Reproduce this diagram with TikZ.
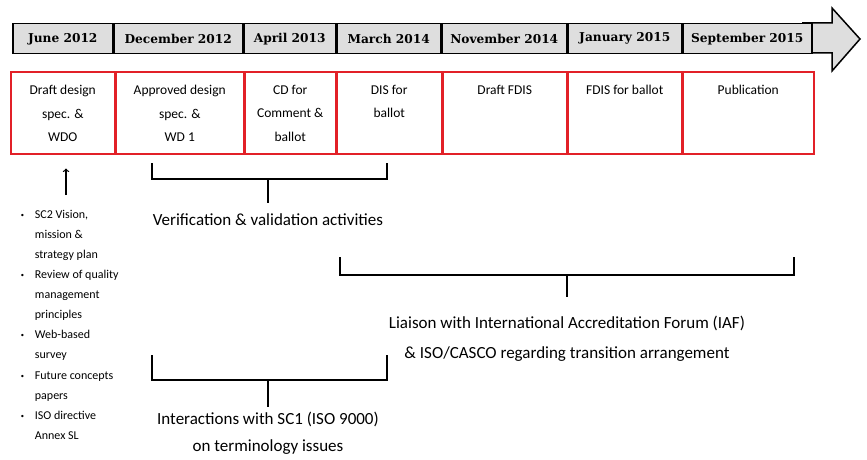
\documentclass[tikz,border=0pt]{standalone}
\usepackage{fontspec}
\setmainfont{DejaVu Serif}
\newfontfamily\thinsans{Carlito}
\usetikzlibrary{positioning,calc}
\definecolor{barfill}{RGB}{222,222,222}
\definecolor{boxred}{RGB}{226,32,40}

\begin{document}
\begin{tikzpicture}[x=1pt,y=-1pt,% one unit is one pixel of the reference, y runs down
			every node/.style={
				align=center,	% so that "\\" breaks lines
				inner sep=0pt
			},
			date/.style={rectangle,draw=black,line width=1.5pt,fill=barfill,minimum height=30pt,
				font=\fontsize{12.2}{13}\selectfont\bfseries},
			stage/.style={rectangle,draw=boxred,line width=1.5pt,minimum height=82pt},
			stagetxt/.style={font=\thinsans\fontsize{13.5}{23.5}\selectfont},
			note/.style={font=\thinsans\fontsize{17}{28}\selectfont},
			bracket/.style={draw,line width=1.3pt}
		]
		\useasboundingbox (0,0) rectangle (867,460);

		% time line
		\draw[line width=1.5pt,fill=barfill] (802,23) -- (832,23) -- (832,8) -- (860,39) -- (832,71) -- (832,53) -- (802,53);
		\node[date,minimum width=100pt,anchor=north west](T1) at (12,23) {June 2012};
		\node[date,minimum width=128pt](T2)[right=0pt of T1]{December 2012};
		\node[date,minimum width=92pt](T3)[right=0pt of T2]{April 2013};
		\node[date,minimum width=103pt](T4)[right=0pt of T3]{March 2014};
		\node[date,minimum width=125pt](T5)[right=0pt of T4]{November 2014};
		\node[date,minimum width=113pt](T6)[right=0pt of T5]{January 2015};
		\node[date,minimum width=129pt](T7)[right=0pt of T6]{September 2015};

		% stages
		\node[stage,minimum width=104pt,anchor=north west](B1) at (10,71) {};
		\node[stage,minimum width=127pt](B2)[right=0pt of B1]{};
		\node[stage,minimum width=91pt](B3)[right=0pt of B2]{};
		\node[stage,minimum width=104pt](B4)[right=0pt of B3]{};
		\node[stage,minimum width=124pt](B5)[right=0pt of B4]{};
		\node[stage,minimum width=113pt](B6)[right=0pt of B5]{};
		\node[stage,minimum width=131pt](B7)[right=0pt of B6]{};
		\node[stagetxt](S1)[below=14pt of B1.north]{Draft design\\spec. \&\\WDO};
		\node[stagetxt](S2)[below=14pt of B2.north]{Approved design\\spec. \&\\WD 1};
		\node[stagetxt](S3)[below=14pt of B3.north]{CD for\\Comment \&\\ballot};
		\node[stagetxt](S4)[below=14pt of B4.north]{DIS for\\ballot};
		\node[stagetxt](S5)[below=14pt of B5.north]{Draft FDIS};
		\node[stagetxt](S6)[below=14pt of B6.north]{FDIS for ballot};
		\node[stagetxt](S7)[below=14pt of B7.north]{Publication};

		% inputs
		\node[anchor=north west,align=left,font=\thinsans\fontsize{12}{20.1}\selectfont](N1) at (20,204){%
			\begin{tabular}{@{}l@{\hspace{10pt}}l@{}}
				{\rmfamily\fontsize{8}{8}\selectfont\textbullet} & SC2 Vision,\\
				 & mission \&\\
				 & strategy plan\\
				{\rmfamily\fontsize{8}{8}\selectfont\textbullet} & Review of quality\\
				 & management\\
				 & principles\\
				{\rmfamily\fontsize{8}{8}\selectfont\textbullet} & Web-based\\
				 & survey\\
				{\rmfamily\fontsize{8}{8}\selectfont\textbullet} & Future concepts\\
				 & papers\\
				{\rmfamily\fontsize{8}{8}\selectfont\textbullet} & ISO directive\\
				 & Annex SL
			\end{tabular}};
		\coordinate (A0) at (66,195);
		\draw[->,line width=1.3pt,shorten >=14pt] (A0) -- (A0 |- B1.south);

		% activities
		\coordinate (V1) at (152,163);
		\coordinate (V2) at (387,163);
		\coordinate (V0) at (268,179);
		\node[note,anchor=north](VT) at (268,213){Verification \& validation activities};
		\draw[bracket] (V1) |- (V0) -| (V2);
		\draw[bracket,shorten >=10pt] (V0) -- (VT.north);

		\coordinate (L1) at (340,257);
		\coordinate (L2) at (794,257);
		\coordinate (L0) at (567,275);
		\node[note,anchor=north,font=\thinsans\fontsize{17}{30}\selectfont](LT) at (567,316){Liaison with International Accreditation Forum (IAF)\\\& ISO/CASCO regarding transition arrangement};
		\draw[bracket] (L1) |- (L0) -| (L2);
		\draw[bracket,shorten >=19pt] (L0) -- (LT.north);

		\coordinate (I1) at (152,355);
		\coordinate (I2) at (387,355);
		\coordinate (I0) at (268,380);
		\node[note,anchor=north,font=\thinsans\fontsize{17}{27}\selectfont](IT) at (268,412){Interactions with SC1 (ISO 9000)\\on terminology issues};
		\draw[bracket] (I1) |- (I0) -| (I2);
		\draw[bracket,shorten >=5pt] (I0) -- (IT.north);
	\end{tikzpicture}
\end{document}
